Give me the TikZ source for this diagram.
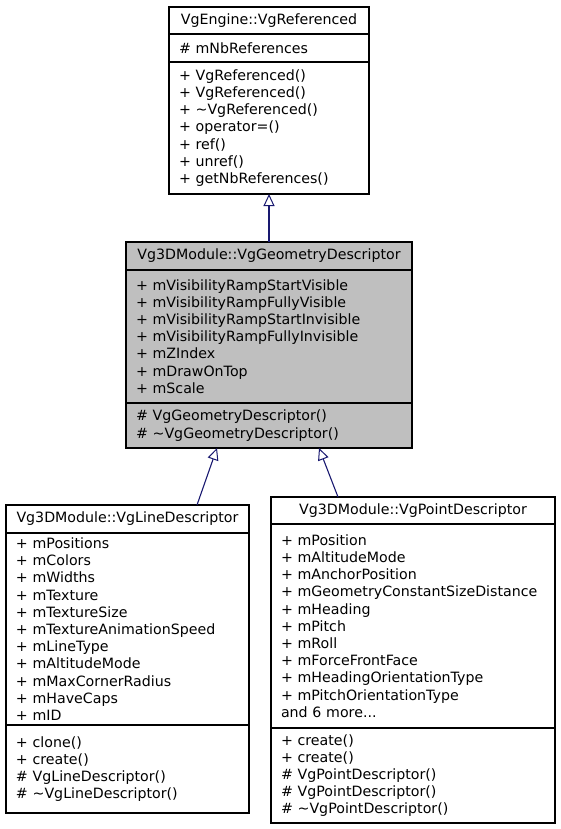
\documentclass[tikz,border=0pt]{standalone}
\usepackage{fontspec}
\setmainfont{DejaVu Sans}
\usepackage{tikz}
\usetikzlibrary{positioning}
\usetikzlibrary{arrows.meta}
\definecolor{edgeblue}{RGB}{25,25,112}
\definecolor{curgray}{RGB}{191,191,191}

\begin{document}
\begin{tikzpicture}[x=1pt,y=1pt,
    box/.style={draw,line width=1.1pt,outer sep=0pt,inner xsep=10pt,inner ysep=3pt,font=\fontsize{14.2}{17.2}\selectfont},
    title/.style={box,align=center},
    members/.style={box,align=left}]
    \useasboundingbox (0,0) rectangle (560,-829);
    % VgReferenced
    \begin{scope}[every node/.style={text width=180pt}]
        \node(reft)[title,minimum height=27pt,anchor=north west] at (169,-7) {VgEngine::VgReferenced};
        \node(refa)[members,minimum height=28pt,below=0pt of reft] {\# mNbReferences};
        \node(refo)[members,minimum height=132pt,below=0pt of refa] {+ VgReferenced()\\+ VgReferenced()\\+ \textasciitilde VgReferenced()\\+ operator=()\\+ ref()\\+ unref()\\+ getNbReferences()};
    \end{scope}
    % VgGeometryDescriptor
    \begin{scope}[every node/.style={text width=266pt,fill=curgray}]
        \node(geomt)[title,minimum height=28pt,anchor=north west] at (126,-242) {Vg3DModule::VgGeometryDescriptor};
        \node(geoma)[members,minimum height=133pt,below=0pt of geomt] {+ mVisibilityRampStartVisible\\+ mVisibilityRampFullyVisible\\+ mVisibilityRampStartInvisible\\+ mVisibilityRampFullyInvisible\\+ mZIndex\\+ mDrawOnTop\\+ mScale};
        \node(geomo)[members,minimum height=45pt,below=0pt of geoma] {\# VgGeometryDescriptor()\\\# \textasciitilde VgGeometryDescriptor()};
    \end{scope}
    % VgLineDescriptor
    \begin{scope}[every node/.style={text width=223pt}]
        \node(linet)[title,minimum height=28pt,anchor=north west] at (6,-505) {Vg3DModule::VgLineDescriptor};
        \node(linea)[members,minimum height=192pt,below=0pt of linet] {+ mPositions\\+ mColors\\+ mWidths\\+ mTexture\\+ mTextureSize\\+ mTextureAnimationSpeed\\+ mLineType\\+ mAltitudeMode\\+ mMaxCornerRadius\\+ mHaveCaps\\+ mID};
        \node(lineo)[members,minimum height=88pt,below=0pt of linea] {+ clone()\\+ create()\\\# VgLineDescriptor()\\\# \textasciitilde VgLineDescriptor()};
    \end{scope}
    % VgPointDescriptor
    \begin{scope}[every node/.style={text width=264pt}]
        \node(pointt)[title,minimum height=27pt,anchor=north west] at (271,-497) {Vg3DModule::VgPointDescriptor};
        \node(pointa)[members,minimum height=204pt,below=0pt of pointt] {+ mPosition\\+ mAltitudeMode\\+ mAnchorPosition\\+ mGeometryConstantSizeDistance\\+ mHeading\\+ mPitch\\+ mRoll\\+ mForceFrontFace\\+ mHeadingOrientationType\\+ mPitchOrientationType\\and 6 more...};
        \node(pointo)[members,minimum height=95pt,below=0pt of pointa] {+ create()\\+ create()\\\# VgPointDescriptor()\\\# VgPointDescriptor()\\\# \textasciitilde VgPointDescriptor()};
    \end{scope}
    %Lines
    \begin{scope}[edgeblue, line width=1.1pt, -{Triangle[open,length=12pt,width=11pt,line width=1pt]}]
        \draw (geomt.north) -- (refo.south);
        \draw ([xshift=69.5pt]linet.north) -- ([xshift=-52pt]geomo.south);
        \draw ([xshift=-75pt]pointt.north) -- ([xshift=50pt]geomo.south);
    \end{scope}
\end{tikzpicture}
\end{document}
